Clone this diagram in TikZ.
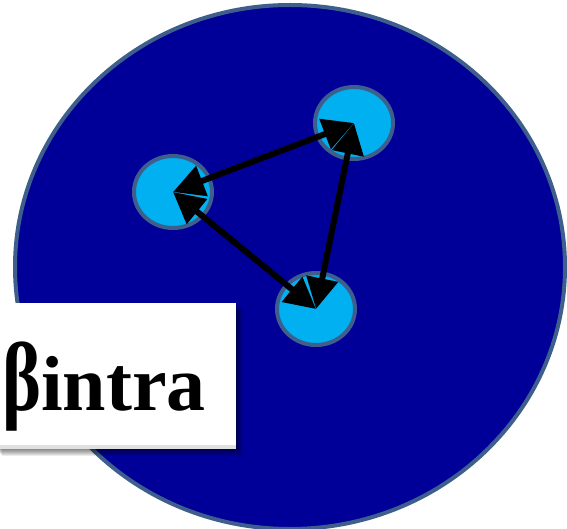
\documentclass[tikz,border=0pt]{standalone}
\usepackage{fontspec}
\setmainfont{Liberation Serif}
\usetikzlibrary{shapes.geometric,arrows.meta}
\definecolor{deep}{RGB}{0,0,153}
\definecolor{rimc}{RGB}{62,94,140}
\definecolor{cyanfill}{RGB}{0,176,240}
\tikzset{
  outerblob/.style={ellipse, draw=rimc, line width=4, fill=deep, inner sep=0,
    minimum width=550, minimum height=524},
  particle/.style={ellipse, draw=rimc, line width=4, fill=cyanfill, inner sep=0,
    minimum width=78, minimum height=72},
  link/.style={line width=6, black,
    {Triangle[length=31pt,width=31pt]}-{Triangle[length=31pt,width=31pt]}},
  labelbox/.style={fill=white, inner sep=0, anchor=north west,
    minimum width=241, minimum height=146},
  labeltext/.style={font=\fontsize{78}{78}\selectfont\bfseries, inner sep=0, anchor=base west}
}
\begin{document}
\begin{tikzpicture}[x=1pt,y=-1pt]
\useasboundingbox (0,0) rectangle (567,529);
\fill[white] (0,0) rectangle (567,529);
\node[outerblob] (outer) at (290,267) {};
\node[particle] (pa) at (354,123) {};
\node[particle] (pb) at (173,192) {};
\node[particle] (pc) at (316,309) {};
\draw[link] (pb.center) -- (pa.center);
\draw[link] (pa.center) -- (pc.center);
\draw[link] (pb.center) -- (pc.center);
% shadow of label box
\foreach \i in {1,...,7}{
  \fill[black, opacity=0.08] (-5+\i,303+\i) rectangle (236+\i,449+\i);
}
\node[labelbox] (box) at (-5,303) {};
\fill[black!12] (box.south west) ++(0,-4) rectangle (box.south east);
\node[labeltext] (lbl) at (2,410) {\scalebox{0.95}[1.25]{β}intra};
\end{tikzpicture}
\end{document}
